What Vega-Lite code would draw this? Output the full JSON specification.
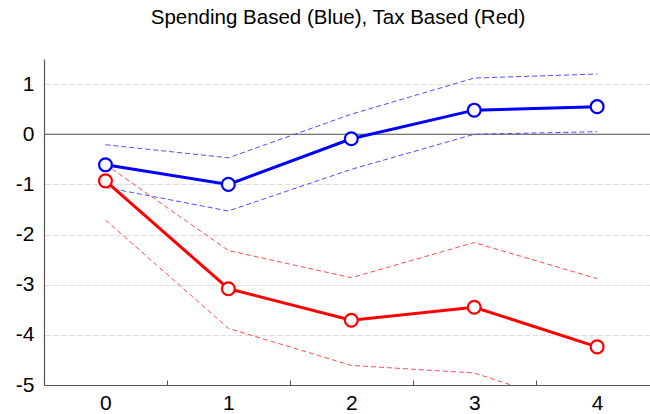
{
  "$schema": "https://vega.github.io/schema/vega-lite/v6.json",
  "width": 606,
  "height": 326,
  "autosize": {"type": "none"},
  "padding": {"left": 44, "top": 59, "right": 0, "bottom": 29},
  "background": "white",
  "title": {
    "text": "Spending Based (Blue), Tax Based (Red)",
    "font": "Liberation Sans",
    "fontSize": 20.5,
    "fontWeight": "normal",
    "color": "black",
    "anchor": "middle",
    "offset": 31,
    "dx": -9
  },
  "config": {
    "view": {"stroke": null},
    "axis": {"labelFont": "Liberation Sans", "labelFontSize": 21, "labelColor": "black", "domainColor": "#555555", "tickColor": "#555555"}
  },
  "data": {
    "values": [
      {"h": 0, "group": "Spending", "band": "mean", "value": -0.61},
      {"h": 1, "group": "Spending", "band": "mean", "value": -1.0},
      {"h": 2, "group": "Spending", "band": "mean", "value": -0.09},
      {"h": 3, "group": "Spending", "band": "mean", "value": 0.48},
      {"h": 4, "group": "Spending", "band": "mean", "value": 0.55},
      {"h": 0, "group": "Spending", "band": "upper", "value": -0.21},
      {"h": 1, "group": "Spending", "band": "upper", "value": -0.47},
      {"h": 2, "group": "Spending", "band": "upper", "value": 0.4},
      {"h": 3, "group": "Spending", "band": "upper", "value": 1.12},
      {"h": 4, "group": "Spending", "band": "upper", "value": 1.2},
      {"h": 0, "group": "Spending", "band": "lower", "value": -1.06},
      {"h": 1, "group": "Spending", "band": "lower", "value": -1.53},
      {"h": 2, "group": "Spending", "band": "lower", "value": -0.7},
      {"h": 3, "group": "Spending", "band": "lower", "value": 0.0},
      {"h": 4, "group": "Spending", "band": "lower", "value": 0.05},
      {"h": 0, "group": "Tax", "band": "mean", "value": -0.93},
      {"h": 1, "group": "Tax", "band": "mean", "value": -3.08},
      {"h": 2, "group": "Tax", "band": "mean", "value": -3.71},
      {"h": 3, "group": "Tax", "band": "mean", "value": -3.45},
      {"h": 4, "group": "Tax", "band": "mean", "value": -4.24},
      {"h": 0, "group": "Tax", "band": "upper", "value": -0.6},
      {"h": 1, "group": "Tax", "band": "upper", "value": -2.32},
      {"h": 2, "group": "Tax", "band": "upper", "value": -2.86},
      {"h": 3, "group": "Tax", "band": "upper", "value": -2.16},
      {"h": 4, "group": "Tax", "band": "upper", "value": -2.88},
      {"h": 0, "group": "Tax", "band": "lower", "value": -1.71},
      {"h": 1, "group": "Tax", "band": "lower", "value": -3.87},
      {"h": 2, "group": "Tax", "band": "lower", "value": -4.61},
      {"h": 3, "group": "Tax", "band": "lower", "value": -4.76},
      {"h": 4, "group": "Tax", "band": "lower", "value": -5.56}
    ]
  },
  "resolve": {"scale": {"stroke": "independent"}, "axis": {"x": "independent"}},
  "layer": [
    {
      "data": {"values": [{"y": 0}]},
      "mark": {"type": "rule", "color": "#555555", "strokeWidth": 1.2},
      "encoding": {
        "y": {"field": "y", "type": "quantitative"}
      }
    },
    {
      "transform": [{"filter": "datum.band !== 'mean'"}],
      "mark": {"type": "line", "strokeWidth": 1, "strokeDash": [5, 3], "clip": true},
      "encoding": {
        "x": {"field": "h", "type": "quantitative", "scale": {"domain": [-0.5, 4.43], "nice": false, "zero": false},
              "axis": {"orient": "bottom", "values": [0, 1, 2, 3, 4], "ticks": false, "grid": false, "title": null, "labelPadding": 7, "domainWidth": 1.2}},
        "y": {"field": "value", "type": "quantitative", "scale": {"domain": [-5, 1.5], "nice": false},
              "axis": {"values": [-5, -4, -3, -2, -1, 0, 1], "ticks": false, "title": null, "labelPadding": 10, "domainWidth": 1.2,
                       "labelExpr": "'' + datum.value",
                       "grid": true, "gridColor": "#dddddd", "gridDash": [6, 2], "gridWidth": 1}},
        "stroke": {"field": "group", "type": "nominal", "scale": {"domain": ["Spending", "Tax"], "range": ["#4d4dff", "#ff4d4d"]}, "legend": null},
        "detail": {"field": "band"}
      }
    },
    {
      "transform": [{"filter": "datum.band === 'mean'"}],
      "layer": [
        {
          "mark": {"type": "line", "strokeWidth": 3},
          "encoding": {
            "x": {"field": "h", "type": "quantitative",
                  "axis": {"orient": "bottom", "values": [0.5, 1.5, 2.5, 3.5], "labels": false, "domain": false, "grid": false, "ticks": true, "tickSize": -5, "title": null}},
            "y": {"field": "value", "type": "quantitative"},
            "stroke": {"field": "group", "type": "nominal", "scale": {"domain": ["Spending", "Tax"], "range": ["#0000ff", "#ff0000"]}, "legend": null}
          }
        },
        {
          "mark": {"type": "point", "shape": "circle", "size": 165, "filled": true, "fill": "white", "strokeWidth": 2.2, "opacity": 1},
          "encoding": {
            "x": {"field": "h", "type": "quantitative"},
            "y": {"field": "value", "type": "quantitative"},
            "stroke": {"field": "group", "type": "nominal", "scale": {"domain": ["Spending", "Tax"], "range": ["#0000ff", "#ff0000"]}, "legend": null}
          }
        }
      ]
    }
  ]
}
